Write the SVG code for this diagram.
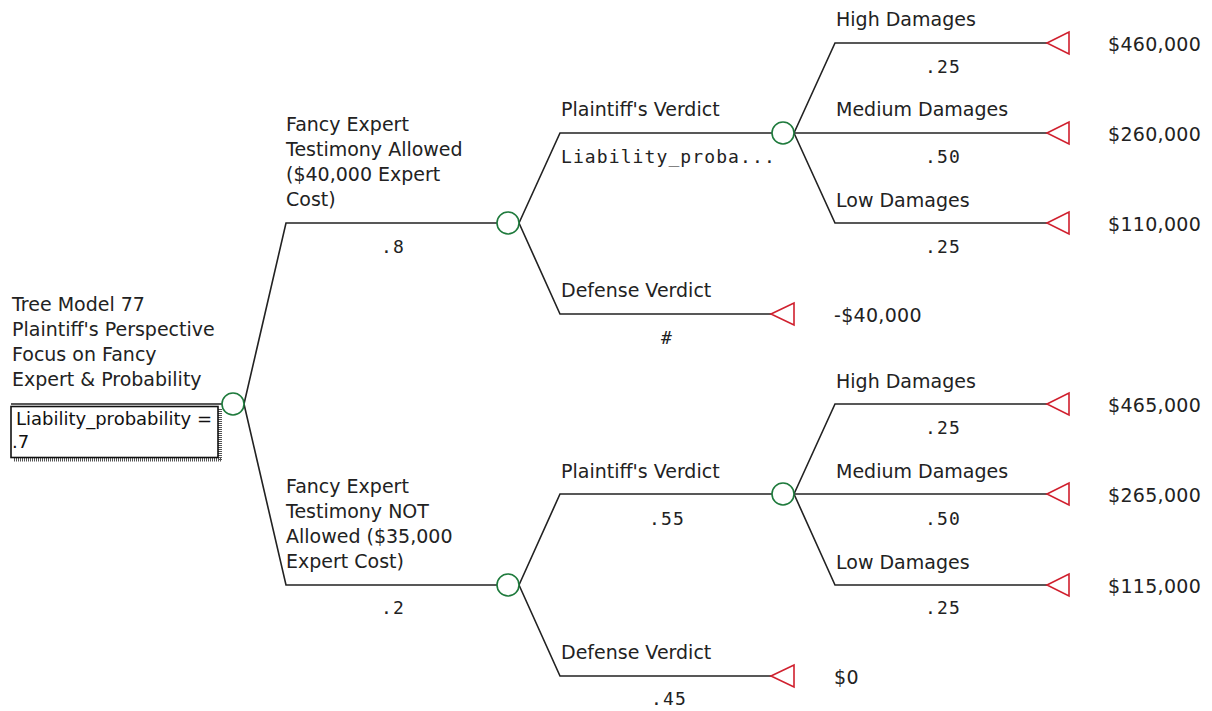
<svg xmlns="http://www.w3.org/2000/svg" width="1212" height="711" viewBox="0 0 1212 711">
<style>
.ln{fill:none;stroke:#222;stroke-width:1.6}
.ch{fill:#fff;stroke:#1e7a3c;stroke-width:1.6}
.tm{fill:#fff;stroke:#d0202e;stroke-width:1.6}
.t{font-family:"DejaVu Sans",sans-serif;font-size:19px;fill:#222}
.b{font-family:"DejaVu Sans",sans-serif;font-size:18px;fill:#111}
.m{font-family:"DejaVu Sans Mono",monospace;font-size:18px;letter-spacing:1.1px;fill:#222}
.v{font-family:"DejaVu Sans",sans-serif;font-size:19px;letter-spacing:0.3px;fill:#222}
.c{text-anchor:middle}
</style>
<g id="connectors">
<path class="ln" d="M11 404H222"/>
<path class="ln" d="M244 404L286 223H497"/>
<path class="ln" d="M244 404L286 585H497"/>
<path class="ln" d="M519 223L560 133H772"/>
<path class="ln" d="M519 223L560 314H771"/>
<path class="ln" d="M519 585L560 494H772"/>
<path class="ln" d="M519 585L560 676H771"/>
<path class="ln" d="M794 133L835 43H1047"/>
<path class="ln" d="M794 133H1047"/>
<path class="ln" d="M794 133L835 223H1047"/>
<path class="ln" d="M794 494L835 404H1047"/>
<path class="ln" d="M794 494H1047"/>
<path class="ln" d="M794 494L835 585H1047"/>
</g>
<g id="root">
<text class="t" x="12" y="311">Tree Model 77</text>
<text class="t" x="12" y="336">Plaintiff's Perspective</text>
<text class="t" x="12" y="361">Focus on Fancy</text>
<text class="t" x="12" y="386">Expert &amp; Probability</text>
<path d="M220 409V460M14 459.5H222" stroke="#555" stroke-width="4" stroke-dasharray="1 1" fill="none"/>
<rect x="11" y="406.5" width="207" height="51" fill="#fff" stroke="#111" stroke-width="1.6"/>
<text class="b" x="16" y="425">Liability_probability =</text>
<text class="b" x="12" y="448">.7</text>
<circle class="ch" cx="233" cy="404" r="11"/>
</g>
<g id="n_allowed">
<text class="t" x="286" y="131">Fancy Expert</text>
<text class="t" x="286" y="156">Testimony Allowed</text>
<text class="t" x="286" y="181">($40,000 Expert</text>
<text class="t" x="286" y="206">Cost)</text>
<text class="m c" x="393" y="253">.8</text>
<circle class="ch" cx="508" cy="223" r="11"/>
</g>
<g id="n_notallowed">
<text class="t" x="286" y="493">Fancy Expert</text>
<text class="t" x="286" y="518">Testimony NOT</text>
<text class="t" x="286" y="543">Allowed ($35,000</text>
<text class="t" x="286" y="568">Expert Cost)</text>
<text class="m c" x="393" y="614">.2</text>
<circle class="ch" cx="508" cy="585" r="11"/>
</g>
<g id="n_pv1">
<text class="t" x="561" y="116">Plaintiff's Verdict</text>
<text class="m" x="561" y="163">Liability_proba...</text>
<circle class="ch" cx="783" cy="133" r="11"/>
</g>
<g id="n_dv1">
<text class="t" x="561" y="297">Defense Verdict</text>
<text class="m c" x="667" y="344">#</text>
<polygon class="tm" points="771,314 794,303 794,325"/>
<text class="v" x="834" y="322">-$40,000</text>
</g>
<g id="n_pv2">
<text class="t" x="561" y="478">Plaintiff's Verdict</text>
<text class="m c" x="667" y="525">.55</text>
<circle class="ch" cx="783" cy="494" r="11"/>
</g>
<g id="n_dv2">
<text class="t" x="561" y="659">Defense Verdict</text>
<text class="m c" x="669" y="705">.45</text>
<polygon class="tm" points="771,676 794,665 794,687"/>
<text class="v" x="834" y="684">$0</text>
</g>
<g id="t1">
<text class="t" x="836" y="26">High Damages</text>
<text class="m c" x="943" y="73">.25</text>
<polygon class="tm" points="1047,43 1069,32 1069,54"/>
<text class="v" x="1108" y="51">$460,000</text>
</g>
<g id="t2">
<text class="t" x="836" y="116">Medium Damages</text>
<text class="m c" x="943" y="163">.50</text>
<polygon class="tm" points="1047,133 1069,122 1069,144"/>
<text class="v" x="1108" y="141">$260,000</text>
</g>
<g id="t3">
<text class="t" x="836" y="207">Low Damages</text>
<text class="m c" x="943" y="253">.25</text>
<polygon class="tm" points="1047,223 1069,212 1069,234"/>
<text class="v" x="1108" y="231">$110,000</text>
</g>
<g id="t4">
<text class="t" x="836" y="388">High Damages</text>
<text class="m c" x="943" y="434">.25</text>
<polygon class="tm" points="1047,404 1069,393 1069,415"/>
<text class="v" x="1108" y="412">$465,000</text>
</g>
<g id="t5">
<text class="t" x="836" y="478">Medium Damages</text>
<text class="m c" x="943" y="525">.50</text>
<polygon class="tm" points="1047,494 1069,483 1069,505"/>
<text class="v" x="1108" y="502">$265,000</text>
</g>
<g id="t6">
<text class="t" x="836" y="569">Low Damages</text>
<text class="m c" x="943" y="614">.25</text>
<polygon class="tm" points="1047,585 1069,574 1069,596"/>
<text class="v" x="1108" y="593">$115,000</text>
</g>
</svg>
